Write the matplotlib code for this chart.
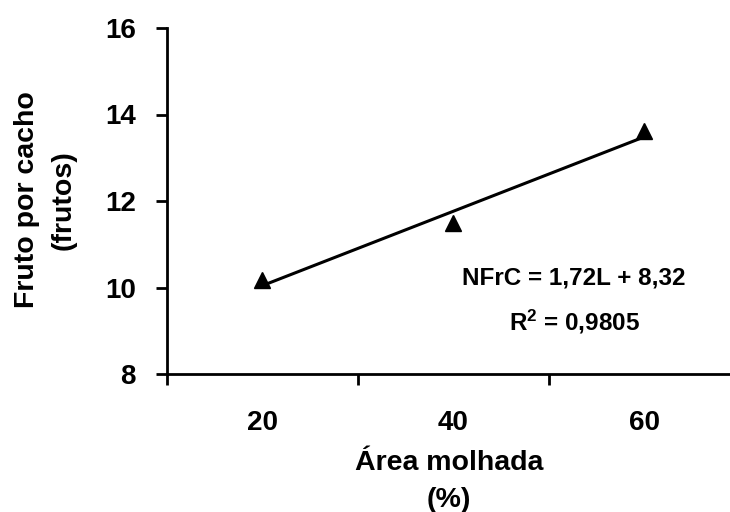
import numpy as np
import matplotlib
matplotlib.use("Agg")
import matplotlib.pyplot as plt

plt.rcParams['font.family'] = ['Liberation Sans', 'DejaVu Sans']
plt.rcParams['font.weight'] = 'bold'
plt.rcParams['mathtext.fontset'] = 'custom'
plt.rcParams['mathtext.bf'] = 'Liberation Sans:bold'
plt.rcParams['mathtext.rm'] = 'Liberation Sans:bold'
plt.rcParams['mathtext.default'] = 'bf'

# data (category axis, Excel style)
categories = ['20', '40', '60']
frutos = [10.18, 11.48, 13.62]
y_ticks = [8, 10, 12, 14, 16]

pos = np.arange(1, len(categories) + 1)
slope, intercept = np.polyfit(pos, frutos, 1)

fig = plt.figure(figsize=(7.30, 5.12), dpi=100)
ax = fig.add_axes([166.5 / 730, 1 - 374 / 512, 573 / 730, 346 / 512])

ax.plot(pos, frutos, linestyle='none', marker='^', markersize=12, color='black')
xl = np.array([pos[0], pos[-1]])
ax.plot(xl, slope * xl + intercept, color='black', linewidth=2.2)

ax.set_xlim(0.5, 3.5)
ax.set_ylim(8, 16)
ax.set_xticks(pos)
ax.set_xticklabels(categories)
ax.set_xticks(np.arange(0.5, 3.6, 1.0), minor=True)
ax.set_yticks(y_ticks)

ax.tick_params(axis='x', which='major', length=0, pad=26, labelsize=20)
ax.tick_params(axis='x', which='minor', length=8, width=2, direction='out')
ax.tick_params(axis='y', which='major', length=8, width=2, direction='out', pad=14, labelsize=20)

for s in ['top', 'right']:
    ax.spines[s].set_visible(False)
for s in ['left', 'bottom']:
    ax.spines[s].set_linewidth(2)

fig.text(27 / 730, 1 - 200 / 512, 'Fruto por cacho', rotation=90, ha='center', va='center', fontsize=20.5, fontweight='bold')
fig.text(64 / 730, 1 - 200 / 512, '(frutos)', rotation=90, ha='center', va='center', fontsize=20.5, fontweight='bold')
fig.text(449 / 730, 1 - 463 / 512, 'Área molhada', ha='center', va='center', fontsize=20.5, fontweight='bold')
fig.text(449 / 730, 1 - 500 / 512, '(%)', ha='center', va='center', fontsize=20.5, fontweight='bold')

fig.text(574 / 730, 1 - 278 / 512, 'NFrC = 1,72L + 8,32', ha='center', va='center', fontsize=17.5, fontweight='bold')
fig.text(575 / 730, 1 - 322 / 512, r'R$^{2}$ = 0,9805', ha='center', va='center', fontsize=17.5, fontweight='bold')

fig.savefig('out.png', dpi=100)
